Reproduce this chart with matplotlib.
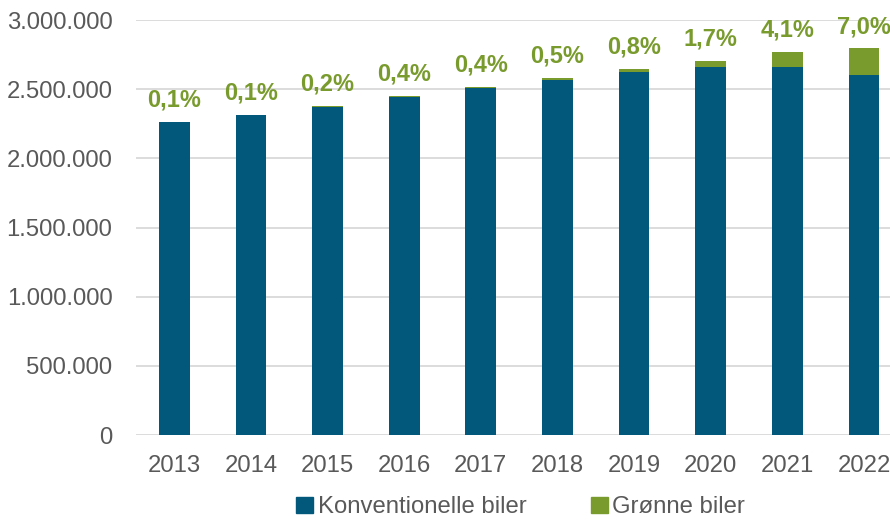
import matplotlib
matplotlib.use("Agg")
import matplotlib.pyplot as plt
from matplotlib.ticker import FuncFormatter
from matplotlib.patches import Patch
import numpy as np

# Bestand af personbiler, i alt og grønne bilers andel
years = ["2013", "2014", "2015", "2016", "2017", "2018", "2019", "2020", "2021", "2022"]
total_cars = [2263000, 2313000, 2378000, 2451000, 2516000, 2583000, 2646000, 2704000, 2771000, 2795000]
green_share = [0.001, 0.001, 0.002, 0.004, 0.004, 0.005, 0.008, 0.017, 0.041, 0.070]
share_labels = ["0,1%", "0,1%", "0,2%", "0,4%", "0,4%", "0,5%", "0,8%", "1,7%", "4,1%", "7,0%"]

blue = "#02587A"
green = "#799B2E"
grey_text = "#595959"

total = np.array(total_cars, dtype=float)
green_cars = total * np.array(green_share)
conv_cars = total - green_cars

plt.rcParams["font.family"] = ["Liberation Sans", "DejaVu Sans"]

fig = plt.figure(figsize=(8.9, 5.21), dpi=100)
ax = fig.add_axes([0.1528, 0.165, 0.861, 0.7965])

x = np.arange(len(years))
ax.bar(x, conv_cars, width=0.40, color=blue, zorder=3)
ax.bar(x, green_cars, width=0.40, bottom=conv_cars, color=green, zorder=3)

for xi, top, lab in zip(x, total, share_labels):
    ax.annotate(lab, (xi, top), xytext=(0, 11), textcoords="offset points",
                ha="center", va="baseline", fontsize=17, fontweight="bold", color=green)

ax.set_xlim(-0.5, len(years) - 0.5)
ax.set_ylim(0, 3000000)
ax.set_yticks(np.arange(0, 3000001, 500000))
ax.yaxis.set_major_formatter(FuncFormatter(lambda v, p: f"{int(v):,}".replace(",", ".")))
ax.set_xticks(x)
ax.set_xticklabels(years)

ax.grid(axis="y", color="#D9D9D9", linewidth=1.3, zorder=0)
for s in ax.spines.values():
    s.set_visible(False)
ax.tick_params(axis="both", length=0, labelsize=17.2, colors=grey_text)
ax.tick_params(axis="y", pad=17)
ax.tick_params(axis="x", pad=14.5)

handles = [Patch(color=blue, label="Konventionelle biler"),
           Patch(color=green, label="Grønne biler")]
fig.legend(handles=handles, loc="center", bbox_to_anchor=(0.585, 0.026), ncol=2,
           frameon=False, fontsize=17.2, handlelength=0.7, handleheight=0.7,
           handletextpad=0.2, columnspacing=2.7, labelcolor=grey_text,
           borderpad=0)

fig.savefig("out.png", dpi=100)
